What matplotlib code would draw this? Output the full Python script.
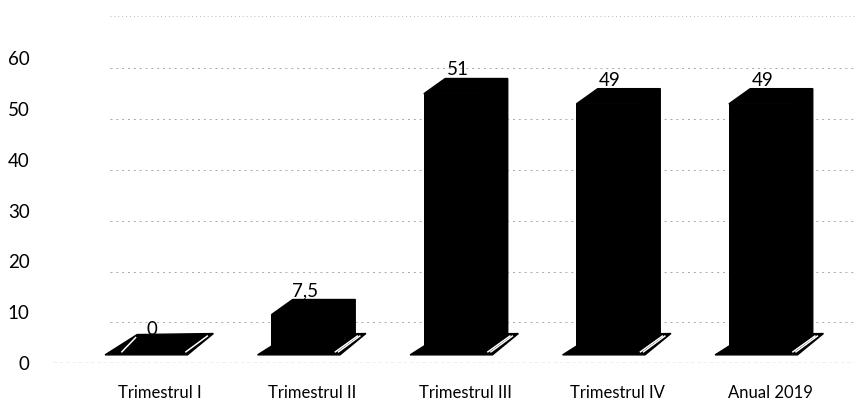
import matplotlib

matplotlib.use("Agg")
import matplotlib.pyplot as plt
from matplotlib.patches import Polygon

plt.rcParams["font.family"] = ["Lato", "DejaVu Sans"]

categories = ["Trimestrul I", "Trimestrul II", "Trimestrul III", "Trimestrul IV", "Anual 2019"]
values = [0, 7.5, 51, 49, 49]
value_labels = ["0", "7,5", "51", "49", "49"]
y_ticks = [0, 10, 20, 30, 40, 50, 60]

# 3d look (data units)
BASE = 2.0        # front face bottom sits a bit above the floor line
FL, FR = -0.27, 0.14   # front face left/right relative to category
DX, DY = 0.14, 3.0     # depth offset
INK = "black"

fig = plt.figure(figsize=(8.62, 4.03), dpi=100)
ax = fig.add_axes([45 / 862, 1 - 363 / 403, 810 / 862, 348 / 403])
ax.set_xlim(-0.754, 4.557)
ax.set_ylim(0, 68.5)

# back wall gridlines (sit slightly below the tick labels) + floor line
for t in y_ticks[1:]:
    ax.axhline(t - 2, xmin=0.08, color="#a8a8a8", lw=0.7, ls=(0, (2, 4)), zorder=0)
ax.axhline(0, xmin=0.01, color="#808080", lw=0.9, ls=(0, (3, 2)), zorder=0)
ax.axhline(68.3, xmin=0.08, color="#b8b8b8", lw=0.7, ls=(0, (1, 3)), zorder=0)

for i, (v, lab) in enumerate(zip(values, value_labels)):
    # floor shadow
    ax.add_patch(Polygon([(i - 0.36, 1.6), (i - 0.15, 5.6), (i + 0.35, 5.8), (i + 0.18, 1.6)],
                         closed=True, color=INK, zorder=2))
    ax.plot([i - 0.25, i - 0.16], [2.2, 5.0], color="white", lw=1.1, zorder=3)
    ax.plot([i + 0.17, i + 0.31], [2.2, 5.3], color="white", lw=1.1, zorder=3)
    if v > 0:
        top = BASE + v
        # front face
        ax.bar(i + (FL + FR) / 2, v, width=FR - FL, bottom=BASE, color=INK, zorder=4)
        # top face
        ax.add_patch(Polygon([(i + FL, top), (i + FL + DX, top + DY), (i + FR + DX, top + DY), (i + FR, top)],
                             closed=True, color=INK, zorder=4))
        # right side face
        ax.add_patch(Polygon([(i + FR, BASE), (i + FR, top), (i + FR + DX, top + DY), (i + FR + DX, BASE + DY)],
                             closed=True, color=INK, zorder=4))
        ax.plot([i + FR + 0.01, i + FR + DX * 1.1], [BASE + 0.2, BASE + DY + 0.3], color="white", lw=1.1, zorder=5)
        ytxt = top + DY + 0.6
    else:
        ytxt = BASE + DY + 0.6
    ax.text(i - 0.05, ytxt, lab, ha="center", va="baseline", fontsize=13.5, color="black", zorder=6)

ax.set_yticks(y_ticks)
ax.set_yticklabels([str(t) for t in y_ticks], fontsize=13.5)
ax.set_xticks(range(len(categories)))
ax.set_xticklabels(categories, fontsize=12)
ax.tick_params(axis="y", length=0, pad=11)
ax.tick_params(axis="x", length=0, pad=16)
for s in ax.spines.values():
    s.set_visible(False)

fig.savefig("out.png", dpi=100, facecolor="white")
